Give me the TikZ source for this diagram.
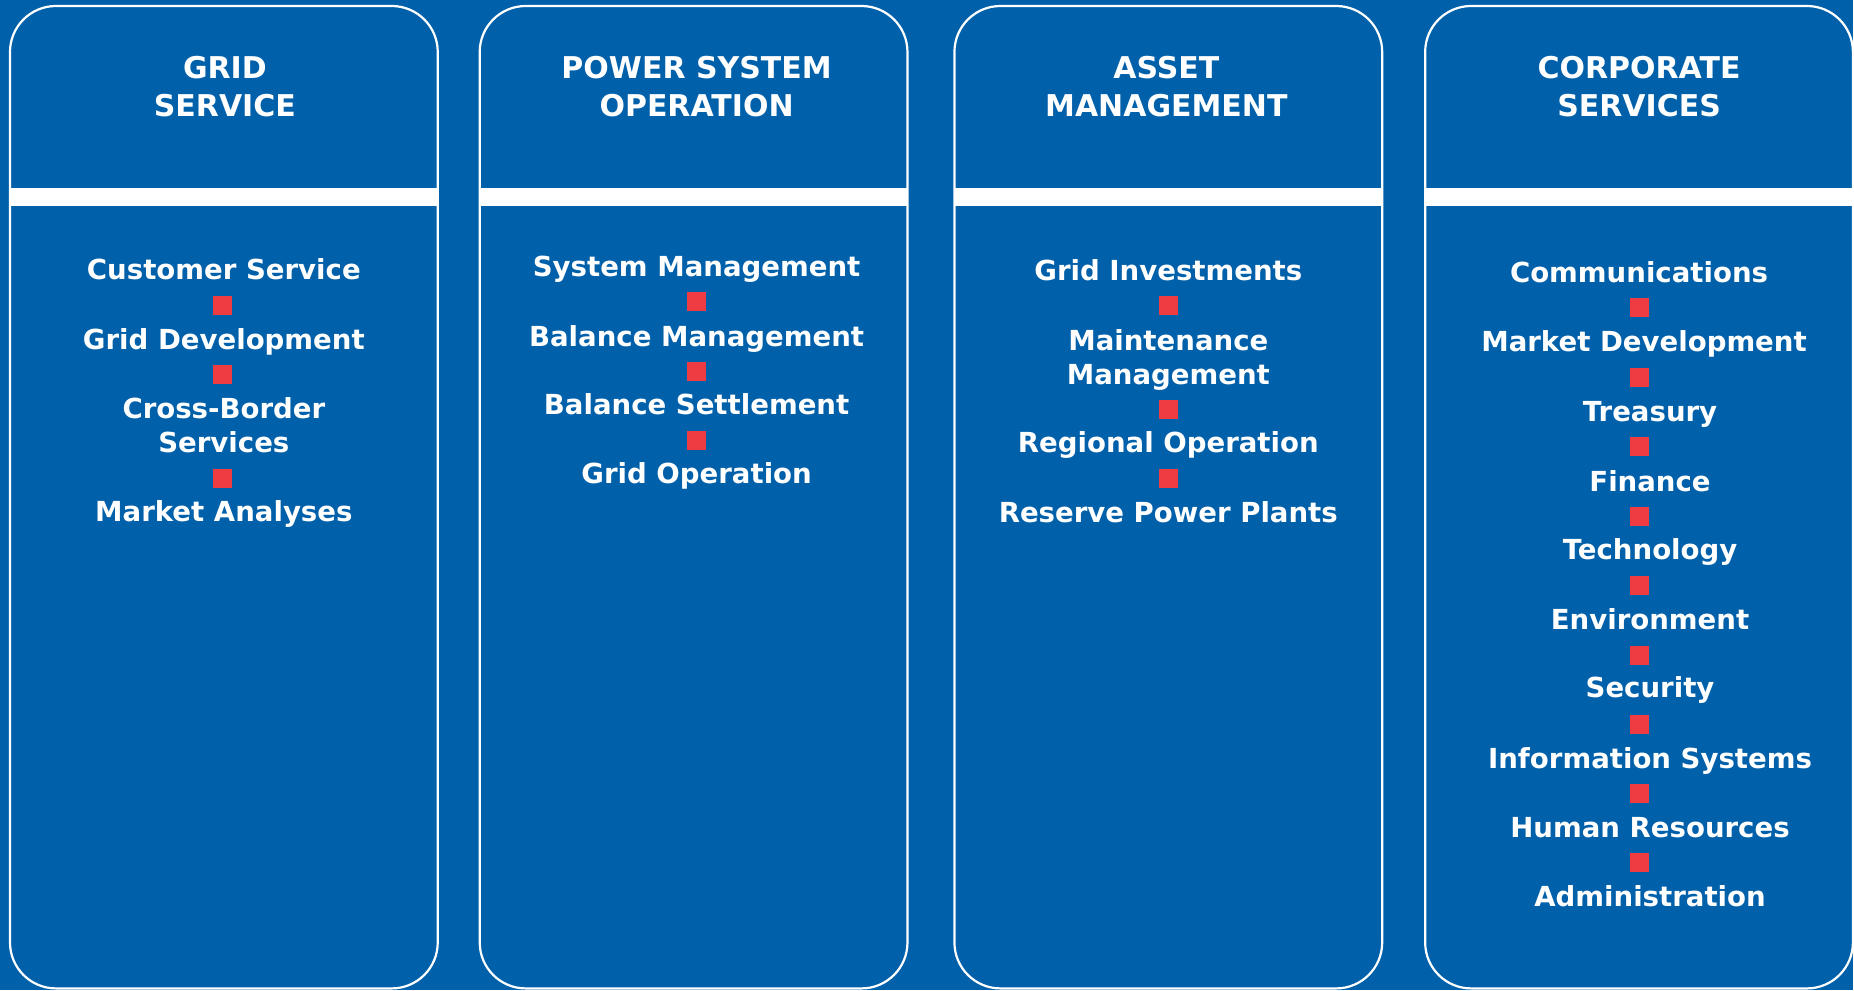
\documentclass[tikz,border=0pt]{standalone}
\usepackage{fontspec}
\setmainfont{DejaVu Sans}
\definecolor{bgblue}{RGB}{0,96,170}
\definecolor{sqred}{RGB}{238,60,66}
\tikzset{
  unitbox/.style={draw=white, line width=1.1pt, fill=bgblue, rounded corners=23pt},
  unithead/.style={text=white, font=\fontsize{15}{19}\selectfont\bfseries, align=center, anchor=base, inner sep=0pt},
  duty/.style={text=white, font=\fontsize{13.8}{17}\selectfont\bfseries, align=center, anchor=base, inner sep=0pt},
  redsq/.style={fill=sqred, minimum size=9.5pt, inner sep=0pt}
}
\begin{document}
\begin{tikzpicture}[x=0.5pt,y=-0.5pt]
  \fill[bgblue] (0,0) rectangle (1854,991);
  % four units
  \foreach \lx in {10,480,955,1426} {
    \draw[unitbox] (\lx,6) rectangle ++(428,983);
    \fill[white] (\lx,188) rectangle ++(428,18);
  }
  % headings (base = last line)
  \node[unithead] (h1) at (225,117) {GRID\\SERVICE};
  \node[unithead] (h2) at (697,117) {POWER SYSTEM\\OPERATION};
  \node[unithead] (h3) at (1167,117) {ASSET\\MANAGEMENT};
  \node[unithead] (h4) at (1640,117) {CORPORATE\\SERVICES};

  % grid service
  \foreach \txt/\yy [count=\i] in {Customer Service/280, Grid Development/350,
      {Cross-Border\\Services}/453, Market Analyses/522}
    \node[duty] (a\i) at (224,\yy) {\txt};
  \foreach \yy [count=\i] in {306,375,479}
    \node[redsq] (sa\i) at (223,\yy) {};

  % power system operation
  \foreach \txt/\yy [count=\i] in {System Management/277, Balance Management/347,
      Balance Settlement/415, Grid Operation/484}
    \node[duty] (b\i) at (697,\yy) {\txt};
  \foreach \yy [count=\i] in {302,372,441}
    \node[redsq] (sb\i) at (697,\yy) {};

  % asset management
  \foreach \txt/\yy [count=\i] in {Grid Investments/281, {Maintenance\\Management}/385,
      Regional Operation/453, Reserve Power Plants/523}
    \node[duty] (c\i) at (1169,\yy) {\txt};
  \foreach \yy [count=\i] in {306,410,479}
    \node[redsq] (sc\i) at (1169,\yy) {};

  % corporate services
  \foreach \txt/\xx/\yy [count=\i] in {Communications/1640/283, Market Development/1645/352,
      Treasury/1651/422, Finance/1651/492, Technology/1651/560, Environment/1651/630,
      Security/1651/698, Information Systems/1651/769, Human Resources/1651/838,
      Administration/1651/907}
    \node[duty] (d\i) at (\xx,\yy) {\txt};
  \foreach \yy [count=\i] in {308,378,447,517,586,656,725,794,863}
    \node[redsq] (sd\i) at (1640,\yy) {};
\end{tikzpicture}
\end{document}
